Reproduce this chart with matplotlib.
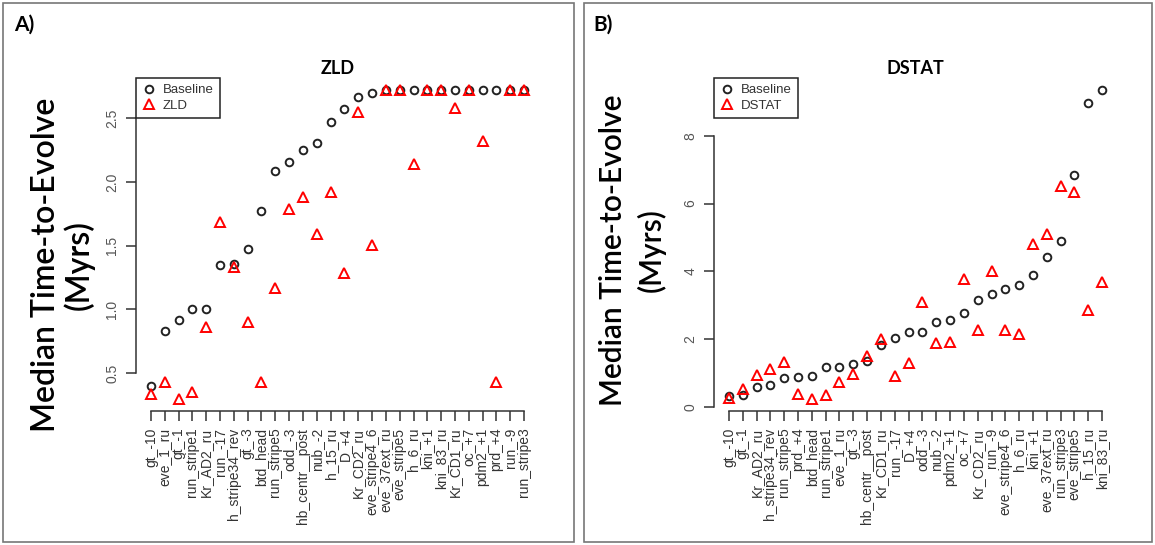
import matplotlib
matplotlib.use('Agg')
import matplotlib.pyplot as plt
from matplotlib.patches import Rectangle

# Panel A: enhancers ordered by baseline time, ZLD added
zld_names = ['gt_-10', 'eve_1_ru', 'gt_-1', 'run_stripe1', 'Kr_AD2_ru', 'run_-17',
             'h_stripe34_rev', 'gt_-3', 'btd_head', 'run_stripe5', 'odd_-3',
             'hb_centr__post', 'nub_-2', 'h_15_ru', 'D_+4', 'Kr_CD2_ru',
             'eve_stripe4_6', 'eve_37ext_ru', 'eve_stripe5', 'h_6_ru', 'kni_+1',
             'kni_83_ru', 'Kr_CD1_ru', 'oc_+7', 'pdm2_+1', 'prd_+4', 'run_-9',
             'run_stripe3']
zld_baseline = [0.40, 0.83, 0.92, 1.00, 1.00, 1.35, 1.355, 1.475, 1.77, 2.085,
                2.16, 2.25, 2.31, 2.47, 2.57, 2.67, 2.70, 2.72, 2.72, 2.72,
                2.72, 2.72, 2.72, 2.72, 2.72, 2.72, 2.72, 2.72]
zld_values = [0.34, 0.43, 0.30, 0.35, 0.86, 1.685, 1.33, 0.905, 0.43, 1.17,
              1.79, 1.885, 1.595, 1.92, 1.285, 2.55, 1.505, 2.72, 2.72, 2.14,
              2.72, 2.72, 2.58, 2.72, 2.325, 0.43, 2.72, 2.72]
zld_yticks = [0.5, 1.0, 1.5, 2.0, 2.5]

# Panel B: same enhancers, DSTAT added
dstat_names = ['gt_-10', 'gt_-1', 'Kr_AD2_ru', 'h_stripe34_rev', 'run_stripe5',
               'prd_+4', 'btd_head', 'run_stripe1', 'eve_1_ru', 'gt_-3',
               'hb_centr__post', 'Kr_CD1_ru', 'run_-17', 'D_+4', 'odd_-3', 'nub_-2',
               'pdm2_+1', 'oc_+7', 'Kr_CD2_ru', 'run_-9', 'eve_stripe4_6', 'h_6_ru',
               'kni_+1', 'eve_37ext_ru', 'run_stripe3', 'eve_stripe5', 'h_15_ru',
               'kni_83_ru']
dstat_baseline = [0.31, 0.355, 0.59, 0.63, 0.84, 0.88, 0.92, 1.165, 1.165, 1.27,
                  1.35, 1.81, 2.04, 2.20, 2.20, 2.50, 2.57, 2.77, 3.14, 3.34,
                  3.48, 3.58, 3.89, 4.41, 4.89, 6.84, 8.98, 9.34]
dstat_values = [0.27, 0.53, 0.95, 1.11, 1.33, 0.385, 0.24, 0.355, 0.72, 0.96,
                1.51, 1.99, 0.90, 1.30, 3.08, 1.87, 1.90, 3.76, 2.27, 4.00,
                2.27, 2.16, 4.80, 5.10, 6.52, 6.33, 2.86, 3.67]
dstat_yticks = [0, 2, 4, 6, 8]

W, H = 1155, 545
plt.rcParams['font.family'] = ['Liberation Sans', 'DejaVu Sans']
fig = plt.figure(figsize=(W / 100, H / 100), dpi=100)


def px_box(x0, y0, x1, y1):
    # pixel box (top-left origin) -> figure fraction [left, bottom, width, height]
    return [x0 / W, (H - y1) / H, (x1 - x0) / W, (y1 - y0) / H]


def draw_panel(box, names, base, other, other_label, yticks, title):
    ax = fig.add_axes(px_box(*box))
    x = list(range(1, len(names) + 1))
    ax.plot(x, base, 'o', ms=5.5, mfc='none', mec='#222222', mew=1.4, label='Baseline')
    ax.plot(x, other, '^', ms=6.5, mfc='none', mec='#ff0000', mew=1.4, label=other_label)

    n = len(names)
    ax.set_xlim(1 - 0.04 * (n - 1), n + 0.04 * (n - 1))
    lo = min(min(base), min(other))
    hi = max(max(base), max(other))
    pad = 0.04 * (hi - lo)
    ax.set_ylim(lo - pad, hi + pad)

    ax.set_xticks(x)
    ax.set_xticklabels(names, rotation=90, fontsize=10, color='#333333')
    ax.set_yticks(yticks)
    ax.set_yticklabels([str(t) for t in yticks], rotation=90, va='center',
                       fontsize=10, color='#555555')
    ax.tick_params(length=7, width=1.1, color='#333333', pad=5)

    for side in ['top', 'right']:
        ax.spines[side].set_visible(False)
    for side in ['left', 'bottom']:
        ax.spines[side].set_linewidth(1.1)
        ax.spines[side].set_color('#333333')
    ax.spines['left'].set_bounds(yticks[0], yticks[-1])
    ax.spines['bottom'].set_bounds(1, n)

    leg = ax.legend(loc='upper left', borderaxespad=0, fancybox=False,
                    edgecolor='#222222', framealpha=1, fontsize=9.5,
                    handlelength=1.0, handletextpad=0.6, borderpad=0.45,
                    labelspacing=0.25)
    leg.get_frame().set_linewidth(1.1)
    for t in leg.get_texts():
        t.set_color('#333333')
    ax.set_title(title, fontsize=13, fontweight='bold', family='Lato', pad=3)
    return ax


draw_panel((136, 78, 539, 411), zld_names, zld_baseline, zld_values, 'ZLD',
           zld_yticks, 'ZLD')
draw_panel((714, 78, 1117, 411), dstat_names, dstat_baseline, dstat_values, 'DSTAT',
           dstat_yticks, 'DSTAT')

# panel frames, letters and the big y labels
panels = [(3, 574, 'A)', 14, 265, 46, 79, 23),
          (584, 1152, 'B)', 593, 250, 613, 651, 21.5)]
for x0, x1, letter, lx, yc, l1, l2, fs in panels:
    fig.patches.append(Rectangle((x0 / W, 1 - 542 / H), (x1 - x0) / W, 539 / H,
                                 transform=fig.transFigure, fill=False,
                                 edgecolor='#777777', lw=1.2))
    fig.text(lx / W, 1 - 25 / H, letter, fontsize=15, fontweight='bold',
             family='Lato', va='center', ha='left')
    fig.text(l1 / W, 1 - yc / H, 'Median Time-to-Evolve', rotation=90,
             fontsize=fs, fontweight='semibold', family='Lato',
             ha='center', va='center')
    fig.text(l2 / W, 1 - yc / H, '(Myrs)', rotation=90,
             fontsize=fs, fontweight='semibold', family='Lato',
             ha='center', va='center')

fig.savefig('out.png', dpi=100)
